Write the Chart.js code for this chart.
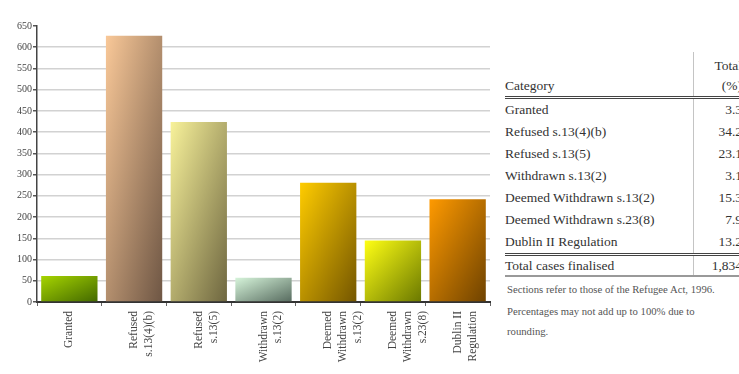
<!DOCTYPE html>
<html>
<head>
<meta charset="utf-8">
<script src="https://cdn.jsdelivr.net/npm/chart.js@4"></script>
<style>
  body { margin: 0; width: 739px; height: 374px; overflow: hidden; background: #fff; position: relative; }
  #chartBox { position: absolute; left: 0; top: 0; width: 500px; height: 374px; }
  #tableBox { position: absolute; left: 505px; top: 52px; width: 240px; font-family: "Liberation Serif", serif; color: #333; }
  table { border-collapse: collapse; width: 237px; font-size: 13.5px; }
  td { padding: 0; height: 22px; line-height: 22px; white-space: nowrap; }
  td.val { text-align: right; border-left: 1px solid #c4c4c4; width: 48px; }
  tr.head td { height: 44px; line-height: 20px; vertical-align: bottom; border-bottom: 3px double #444; }
  tr.last td { border-bottom: 3px double #444; }
  tr.total td { border-bottom: 2px solid #999; height: 19px; line-height: 19px; }
  .notes { font-size: 10.7px; color: #555; width: 216px; line-height: 20px; }
  .notes p { margin: 2px 0 0 2px; }
</style>
</head>
<body>
<div id="chartBox"><canvas id="casesChart"></canvas></div>
<div id="tableBox">
  <table id="summary"></table>
  <div class="notes">
    <p>Sections refer to those of the Refugee Act, 1996.</p>
    <p>Percentages may not add up to 100% due to rounding.</p>
  </div>
</div>
<script>
// Datos del gráfico
const categories = [
  "Granted",
  ["Refused", "s.13(4)(b)"],
  ["Refused", "s.13(5)"],
  ["Withdrawn", "s.13(2)"],
  ["Deemed", "Withdrawn", "s.13(2)"],
  ["Deemed", "Withdrawn", "s.23(8)"],
  ["Dublin II", "Regulation"],
]
const cases = [61, 627, 424, 57, 281, 145, 242]
const yMin = 0
const yMax = 650
const yStep = 50

// Datos de la tabla
const tableCategories = [
  "Granted",
  "Refused s.13(4)(b)",
  "Refused s.13(5)",
  "Withdrawn s.13(2)",
  "Deemed Withdrawn s.13(2)",
  "Deemed Withdrawn s.23(8)",
  "Dublin II Regulation",
]
const tablePercent = ["3.3", "34.2", "23.1", "3.1", "15.3", "7.9", "13.2"]
const totalCases = "1,834"

// Colores de las barras (claro arriba-izquierda, oscuro abajo-derecha)
const lightColors = ["#a6d400", "#f9c898", "#f8f29a", "#d6f4da", "#ffcc00", "#ffff14", "#ff9a00"]
const darkColors = ["#426800", "#6e5644", "#6e6640", "#566a5e", "#745600", "#6a7800", "#6e4200"]

const barPct = 0.87

// Degradado diagonal de cada barra (esquina a esquina)
function barGradient(context) {
  const i = context.dataIndex
  const chart = context.chart
  const { ctx, chartArea, scales } = chart
  if (!chartArea || context.type !== "data") return lightColors[i]
  const x = scales.x.getPixelForValue(i)
  const w = (chartArea.width / categories.length) * barPct
  const top = scales.y.getPixelForValue(context.raw)
  const h = scales.y.getPixelForValue(0) - top
  const k = (2 * w * h) / (w * w + h * h)
  const x0 = x - w / 2
  const g = ctx.createLinearGradient(x0, top, x0 + h * k, top + w * k)
  g.addColorStop(0, lightColors[i])
  g.addColorStop(1, darkColors[i])
  return g
}

function buildTable() {
  const table = document.getElementById("summary")
  let html = '<tr class="head"><td>Category</td><td class="val">Total<br>(%)</td></tr>'
  tableCategories.forEach((name, i) => {
    const cls = i === tableCategories.length - 1 ? ' class="last"' : ""
    html += `<tr${cls}><td>${name}</td><td class="val">${tablePercent[i]}</td></tr>`
  })
  html += `<tr class="total"><td>Total cases finalised</td><td class="val">${totalCases}</td></tr>`
  table.innerHTML = html
}

function initializeChart() {
  const ctx = document.getElementById("casesChart").getContext("2d")
  new Chart(ctx, {
    type: "bar",
    data: {
      labels: categories,
      datasets: [
        {
          data: cases,
          backgroundColor: barGradient,
          borderWidth: 0,
          categoryPercentage: 1,
          barPercentage: barPct,
        },
      ],
    },
    options: {
      responsive: true,
      maintainAspectRatio: false,
      animation: false,
      layout: { padding: { top: 26, right: 10, left: 0, bottom: 0 } },
      plugins: { legend: { display: false }, tooltip: { enabled: false } },
      scales: {
        x: {
          afterFit: (scale) => { scale.height = 72 },
          border: { color: "#333", width: 2 },
          grid: { drawOnChartArea: false, tickLength: 4, tickColor: "#666", lineWidth: 1 },
          ticks: {
            autoSkip: false,
            minRotation: 90,
            maxRotation: 90,
            padding: 5,
            color: "#444",
            font: { family: "Liberation Serif", size: 11.5, lineHeight: 1.3 },
          },
        },
        y: {
          min: yMin,
          max: yMax,
          afterFit: (scale) => { scale.width = 37 },
          border: { color: "#444", width: 1.5 },
          grid: {
            color: (c) => (c.tick && c.tick.value === yMax ? "rgba(0,0,0,0)" : "#d2d2d2"),
            lineWidth: 1.5,
            tickLength: 4,
            tickColor: "#555",
          },
          ticks: {
            stepSize: yStep,
            padding: 1,
            color: "#444",
            font: { family: "Liberation Serif", size: 10 },
          },
        },
      },
    },
  })
}

window.addEventListener("load", () => {
  buildTable()
  initializeChart()
})
</script>
</body>
</html>
